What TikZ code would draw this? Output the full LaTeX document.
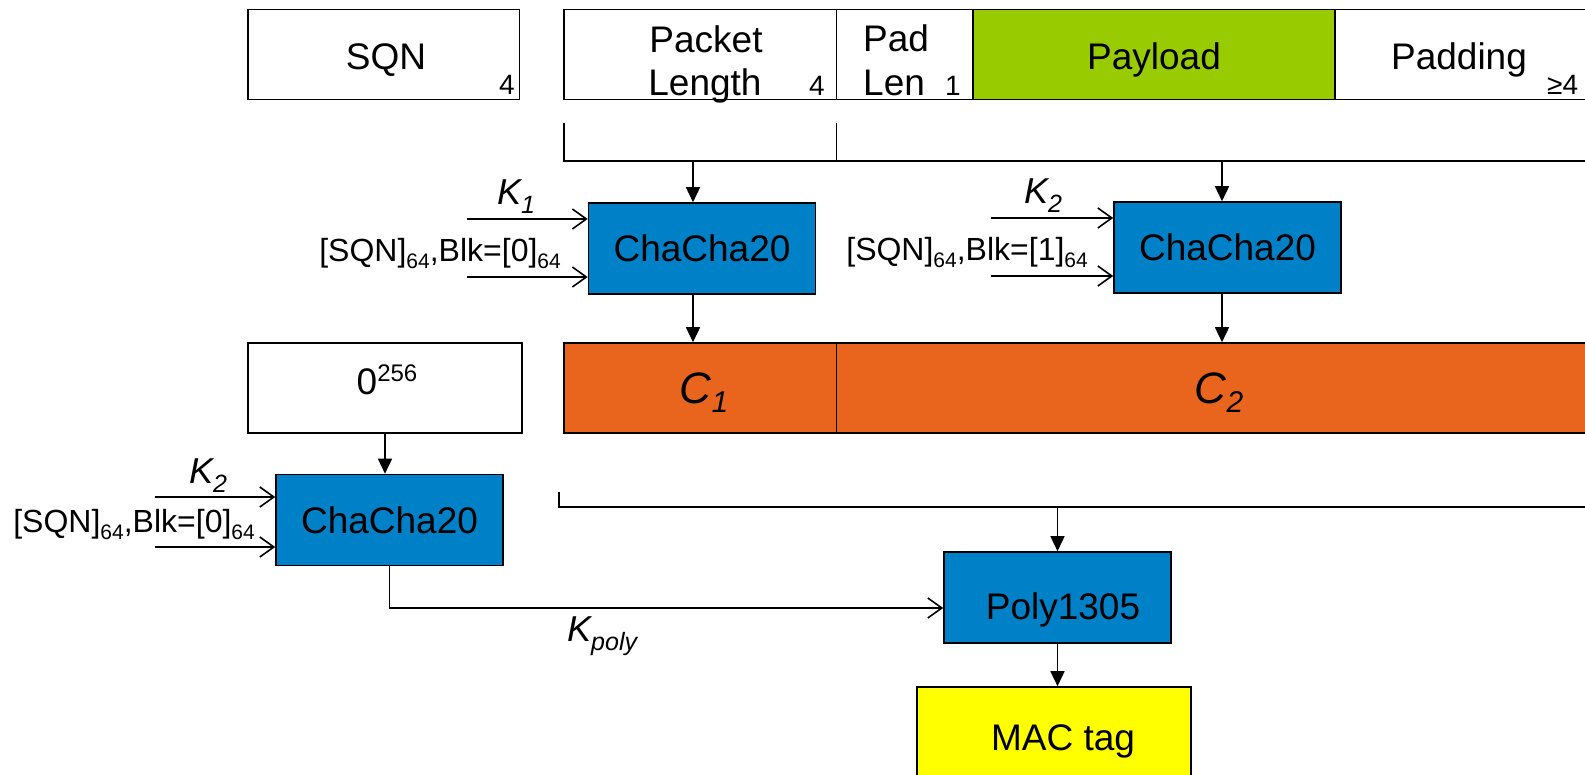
\documentclass[tikz,border=0pt]{standalone}
\usepackage{fontspec}
\setmainfont{Liberation Sans}
\usetikzlibrary{arrows.meta}
\definecolor{cblue}{RGB}{0,128,198}
\definecolor{cgreen}{RGB}{153,204,0}
\definecolor{corange}{RGB}{233,101,30}
\definecolor{cyellow}{RGB}{255,255,0}
\newcommand{\fs}[1]{\fontsize{#1}{#1}\selectfont}
\newcommand{\dn}[3]{\raisebox{-#2}{\fs{#1}#3}}
\newcommand{\up}[3]{\raisebox{#2}{\fs{#1}#3}}
\begin{document}
\begin{tikzpicture}[x=1pt,y=-1pt,
  ln/.style={line width=1.6pt},
  darr/.style={ln,-{Triangle[length=15pt,width=14pt]}},
  sarr/.style={ln,-{Straight Barb[length=14pt,width=20pt,line width=1.6pt]}},
  cell/.style={draw,line width=1.6pt,inner sep=0pt,minimum height=90pt},
  blk/.style={draw,line width=1.6pt,inner sep=0pt,fill=cblue,minimum width=227pt,minimum height=91pt,font=\fs{37}},
  txt/.style={inner sep=0pt,font=\fs{37}},
  small/.style={inner sep=0pt,font=\fs{28}},
  lab/.style={inner sep=0pt,font=\fs{32}},
  klab/.style={inner sep=0pt,font=\fs{36}\itshape}]
\useasboundingbox (0,0) rectangle (1585,775);
\clip (0,0) rectangle (1585,775);

% top row
\node[cell,minimum width=271.5pt] (sqn) at (383.75,54.5) {};
\node[cell,minimum width=272.5pt] (plen) at (700.25,54.5) {};
\node[cell,minimum width=136.5pt] (padlen) at (904.75,54.5) {};
\node[cell,minimum width=362pt,fill=cgreen] (payload) at (1154,54.5) {};
\node[cell,minimum width=285pt] (padding) at (1477.5,54.5) {};

\node[txt,anchor=base] (tsqn) at (386,70) {SQN};
\node[small,anchor=base east] (nsqn) at (515,95) {4};
\node[txt,anchor=base] (tpacket) at (706,53) {Packet};
\node[txt,anchor=base] (tlength) at (705,96) {Length};
\node[small,anchor=base east] (nplen) at (825,96) {4};
\node[txt,anchor=base west] (tpad) at (863,52) {Pad};
\node[txt,anchor=base west] (tlen) at (863,96) {Len};
\node[small,anchor=base east] (npad) at (961,96) {1};
\node[txt,anchor=base] (tpayload) at (1154,70) {Payload};
\node[txt,anchor=base] (tpadding) at (1459,70) {Padding};
\node[small,anchor=base west] (npadding) at (1547,95) {≥4};

% bracket 1
\coordinate (b1l) at (564,123);
\coordinate (b1m) at (836.5,123);
\coordinate (b1ll) at (564,161);
\coordinate (b1r) at (1600,161);
\draw[ln] (b1l) -- (b1ll) -- (b1r);
\draw[ln] (b1m) -- (b1m |- b1ll);
\coordinate (t1) at (693,161);
\coordinate (t2) at (1222,161);

% ChaCha blocks
\node[blk] (cc1) at (702,248.5) {ChaCha20};
\node[blk] (cc2) at (1227.5,247.5) {ChaCha20};
\draw[darr] (t1) -- (t1 |- cc1.north);
\draw[darr] (t2) -- (t2 |- cc2.north);

% inputs cc1
\coordinate (a1) at (467,219);
\coordinate (a2) at (467,277);
\draw[sarr] (a1) -- (a1 -| cc1.west);
\draw[sarr] (a2) -- (a2 -| cc1.west);
\node[klab,anchor=base west] (k1) at (497,205) {K\dn{25}{9pt}{1}};
\node[lab,anchor=base east] (in1) at (561,262) {[SQN]\dn{21}{7pt}{64},Blk=[0]\dn{21}{7pt}{64}};

% inputs cc2
\coordinate (a3) at (991,218);
\coordinate (a4) at (991,276);
\draw[sarr] (a3) -- (a3 -| cc2.west);
\draw[sarr] (a4) -- (a4 -| cc2.west);
\node[klab,anchor=base west] (k2) at (1024,204) {K\dn{25}{9pt}{2}};
\node[lab,anchor=base east] (in2) at (1088,261) {[SQN]\dn{21}{7pt}{64},Blk=[1]\dn{21}{7pt}{64}};

% C row
\node[cell,minimum width=272.5pt,fill=corange] (c1) at (700.25,388) {};
\node[cell,minimum width=763.5pt,fill=corange] (c2) at (1218.25,388) {};
\node[klab,font=\fs{44}\itshape,anchor=base] (tc1) at (704,404) {C\dn{30}{9pt}{1}};
\node[klab,font=\fs{44}\itshape,anchor=base] (tc2) at (1219,404) {C\dn{30}{9pt}{2}};
\draw[darr] (t1 |- cc1.south) -- (t1 |- c1.north);
\draw[darr] (t2 |- cc2.south) -- (t2 |- c2.north);

\node[cell,minimum width=274pt] (z) at (385,388) {};
\node[txt,anchor=base] (tz) at (387,395) {0\up{24}{13pt}{256}};

% ChaCha 3
\node[blk] (cc3) at (389.5,520) {ChaCha20};
\draw[darr] (z.south) -- (z.south |- cc3.north);
\coordinate (a5) at (155,497);
\coordinate (a6) at (155,547);
\draw[sarr] (a5) -- (a5 -| cc3.west);
\draw[sarr] (a6) -- (a6 -| cc3.west);
\node[klab,anchor=base west] (k3) at (189,483) {K\dn{25}{9pt}{2}};
\node[lab,anchor=base east] (in3) at (255,532) {[SQN]\dn{21}{7pt}{64},Blk=[0]\dn{21}{7pt}{64}};

% bracket 2
\coordinate (b2t) at (559,492);
\coordinate (b2b) at (559,507);
\coordinate (b2r) at (1600,507);
\draw[ln] (b2t) -- (b2b) -- (b2r);

% Poly1305
\node[blk,minimum width=227pt] (poly) at (1057.5,597.5) {};
\node[txt,anchor=base] (tpoly) at (1063,619) {Poly1305};
\draw[darr] (poly.north |- b2b) -- (poly.north);
\coordinate (kpe) at (poly.west |- 0,608);
\draw[sarr] (cc3.south) |- (kpe);
\node[klab,font=\fs{36}\itshape,anchor=base west] (kpoly) at (567,641) {K\dn{25}{9pt}{poly}};

% MAC tag
\node[draw,line width=1.6pt,inner sep=0pt,fill=cyellow,minimum width=274pt,minimum height=98pt] (mac) at (1054,736) {};
\node[txt,anchor=base] (tmac) at (1063,750) {MAC tag};
\draw[darr] (poly.south) -- (poly.south |- mac.north);
\end{tikzpicture}
\end{document}
